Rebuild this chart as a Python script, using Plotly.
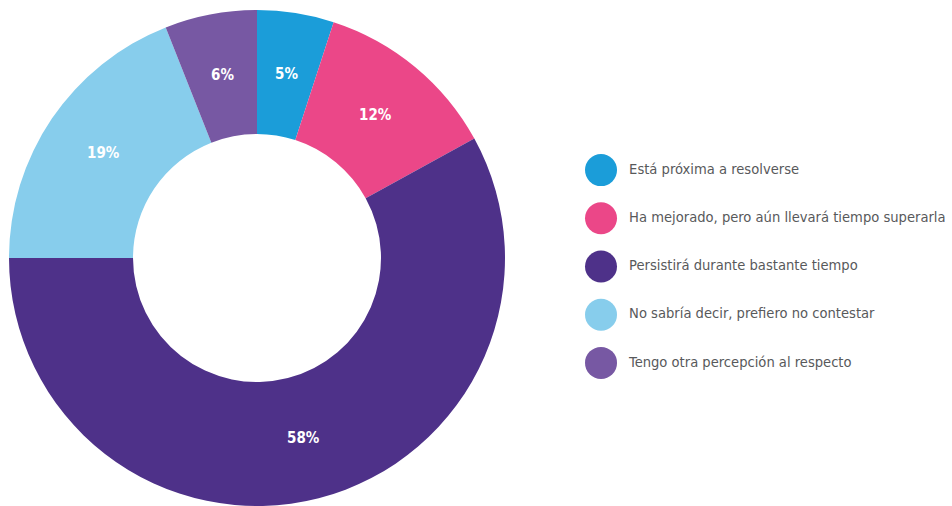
import math
import plotly.graph_objects as go

labels = ['Está próxima a resolverse',
          'Ha mejorado, pero aún llevará tiempo superarla',
          'Persistirá durante bastante tiempo',
          'No sabría decir, prefiero no contestar',
          'Tengo otra percepción al respecto']
values = [5, 12, 58, 19, 6]
colors = ['#1b9dd9', '#eb4788', '#4e3189', '#87cdec', '#7758a3']

FONT = 'DejaVu Sans Condensed, Liberation Sans, sans-serif'

W, H = 952, 506
M = dict(l=9, r=0, t=10, b=0)
HOLE = 0.5
plot_w = W - M['l'] - M['r']
plot_h = H - M['t'] - M['b']
radius = min(plot_w, plot_h) / 2
pie_dx = 2 * radius / plot_w

fig = go.Figure()

fig.add_trace(go.Pie(
    labels=labels,
    values=values,
    sort=False,
    direction='clockwise',
    rotation=0,
    hole=HOLE,
    marker=dict(colors=colors, line=dict(width=0)),
    textinfo='none',
    domain=dict(x=[0, pie_dx], y=[0, 1]),
    showlegend=False,
))

# percentage labels placed in the middle of the ring for each slice
total = sum(values)
cum = 0
r_mid = radius * (1 + HOLE) / 2
for v in values:
    ang = 2 * math.pi * (cum + v / 2) / total
    cum += v
    fig.add_annotation(
        xref='paper', yref='paper',
        x=pie_dx / 2 + r_mid * math.sin(ang) / plot_w,
        y=0.5 + r_mid * math.cos(ang) / plot_h,
        xanchor='center', yanchor='middle',
        text=f'{round(100 * v / total)}%', showarrow=False,
        font=dict(family=FONT, size=15, color='white', weight='bold'),
    )

# legend drawn as a scatter on hidden axes so the circles can be large
fig.add_trace(go.Scatter(
    x=[0] * len(labels), y=labels,
    mode='markers',
    marker=dict(size=32, color=colors, line=dict(width=0)),
    cliponaxis=False,
    showlegend=False, hoverinfo='skip',
))
fig.add_trace(go.Scatter(
    x=[0.08] * len(labels), y=labels,
    mode='text', text=labels, textposition='middle right',
    textfont=dict(family=FONT, size=14.6, color='#58595b'),
    cliponaxis=False,
    showlegend=False, hoverinfo='skip',
))

fig.update_xaxes(domain=[0.6278, 1], range=[0, 1], visible=False, fixedrange=True)
fig.update_yaxes(domain=[0.2399, 0.7258], type='category',
                 range=[4.5, -0.5], visible=False, fixedrange=True)

fig.update_layout(
    width=W, height=H,
    margin=M,
    paper_bgcolor='white', plot_bgcolor='white',
    font=dict(family=FONT),
)

fig.write_html('out.html', config={'displayModeBar': False},
               post_script="document.body.style.margin='0';")
